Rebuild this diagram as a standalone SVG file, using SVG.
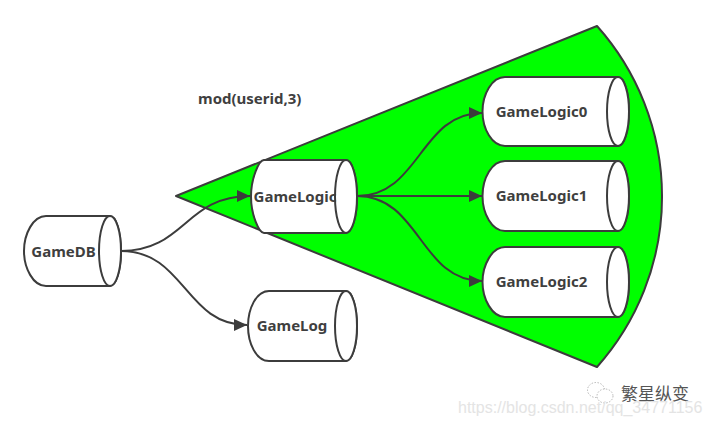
<svg xmlns="http://www.w3.org/2000/svg" width="711" height="425" viewBox="0 0 711 425">
<style>
.s{stroke:#3c3c3c;stroke-width:2;fill:#fff}
.e{stroke:#3c3c3c;stroke-width:2;fill:#fff}
.c{stroke:#3c3c3c;stroke-width:2;fill:none;marker-end:url(#a)}
text{font-family:"Noto Sans","Liberation Sans",sans-serif;font-weight:700;font-size:15px;fill:#3f3f3f}
.m{text-anchor:middle}
</style>
<defs>
<marker id="a" markerUnits="userSpaceOnUse" markerWidth="14" markerHeight="12" refX="13" refY="6" orient="auto"><path d="M0 0L13 6L0 12Z" fill="#3c3c3c"/></marker>
</defs>
<rect width="711" height="425" fill="#fff"/>
<path id="sector" d="M176 196L597 26A256 256 0 0 1 597 367Z" fill="#00ff00" stroke="#3c3c3c" stroke-width="2" stroke-linejoin="round"/>
<g id="connectors">
<path class="c" d="M121 251C185 251 185 196 250 196"/>
<path class="c" d="M121 251C185 251 185 325 247 325"/>
<path class="c" d="M357 196C420 196 420 113 482 113"/>
<path class="c" d="M357 196L482 196"/>
<path class="c" d="M357 196C420 196 420 281 482 281"/>
</g>
<g id="GameDB">
<path class="s" d="M46 216H110A11 35 0 0 1 110 286H46C33 286 24 268 24 251S33 216 46 216Z"/>
<ellipse class="e" cx="110" cy="251" rx="11" ry="35"/>
<text class="m" x="63.500" y="256.500">GameDB</text>
</g>
<g id="GameLogic">
<path class="s" d="M264 160H346A11 36.500 0 0 1 346 233H264C259 233 251 215 251 196.500S259 160 264 160Z"/>
<ellipse class="e" cx="346" cy="196.500" rx="11" ry="36.500"/>
<text class="m" x="295" y="201.500">GameLogic</text>
</g>
<g id="GameLog">
<path class="s" d="M269 291H346A11 35 0 0 1 346 361H269C256 361 248 343 248 326S256 291 269 291Z"/>
<ellipse class="e" cx="346" cy="326" rx="11" ry="35"/>
<text class="m" x="292" y="331">GameLog</text>
</g>
<g id="GameLogic0">
<path class="s" d="M505 77H618A11 34.500 0 0 1 618 146H505C492 146 482.500 129 482.500 111.500S492 77 505 77Z"/>
<ellipse class="e" cx="618" cy="111.500" rx="11" ry="34.500"/>
<text class="m" x="541.500" y="117">GameLogic0</text>
</g>
<g id="GameLogic1">
<path class="s" d="M505 161H618A11 35 0 0 1 618 231H505C492 231 482.500 214 482.500 196S492 161 505 161Z"/>
<ellipse class="e" cx="618" cy="196" rx="11" ry="35"/>
<text class="m" x="541.500" y="201">GameLogic1</text>
</g>
<g id="GameLogic2">
<path class="s" d="M505 247H618A11 35 0 0 1 618 317H505C492 317 482.500 299 482.500 282S492 247 505 247Z"/>
<ellipse class="e" cx="618" cy="282" rx="11" ry="35"/>
<text class="m" x="541.500" y="287">GameLogic2</text>
</g>
<text id="label" x="198" y="104">mod(userid,3)</text>
<g id="watermark">
<g fill="#fff" stroke="#888" stroke-width="0.600" stroke-dasharray="1.500 1.500">
<ellipse cx="596" cy="390" rx="8.500" ry="7.500"/>
<ellipse cx="605" cy="396" rx="8" ry="7"/>
</g>
<text x="621" y="400" style="font-family:'Noto Sans CJK SC',sans-serif;font-size:17px;font-weight:400;fill:#555">繁星纵变</text>
<text x="458" y="413" style="font-family:'Liberation Sans',sans-serif;font-size:16px;font-weight:400;fill:#e4e4e4">https://blog.csdn.net/qq_34771156</text>
</g>
</svg>
